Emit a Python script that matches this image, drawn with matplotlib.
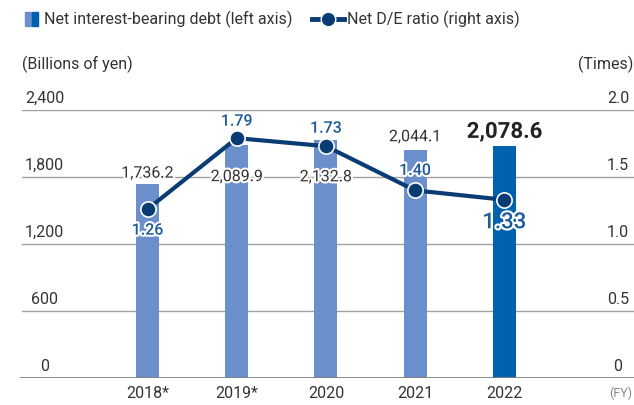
import matplotlib
matplotlib.use("Agg")
import matplotlib.pyplot as plt
import matplotlib.patheffects as pe
from matplotlib.patches import Rectangle
from matplotlib.lines import Line2D
import matplotlib.transforms as mtransforms

plt.rcParams['font.family'] = ['Roboto', 'DejaVu Sans']

# data
years = ["2018*", "2019*", "2020", "2021", "2022"]
debt = [1736.2, 2089.9, 2132.8, 2044.1, 2078.6]
de_ratio = [1.26, 1.79, 1.73, 1.40, 1.33]
left_ticks = [0, 600, 1200, 1800, 2400]
left_tick_labels = ["0", "600", "1,200", "1,800", "2,400"]
right_ticks = [0, 0.5, 1.0, 1.5, 2.0]
right_tick_labels = ["0", "0.5", "1.0", "1.5", "2.0"]

# label offsets in pixels (from bar top / marker)
debt_offsets = [11, -32, -37, 13, 14]
ratio_offsets = [-21, 17, 18, 20, -23]

light_blue = "#6b8fcb"
dark_blue = "#0061ae"
navy = "#0a3c74"
ratio_txt = "#1d5a98"
txt = "#333333"
grid_col = "#a0a0a0"
fs = 11.5

W, H = 634, 405
fig = plt.figure(figsize=(W / 100, H / 100), dpi=100)
ax = fig.add_axes([20 / W, 27 / H, 614 / W, 268 / H])
ax2 = ax.twinx()

x = list(range(len(years)))
colors = [light_blue] * (len(years) - 1) + [dark_blue]

# gridlines
for t in left_ticks[1:]:
    ax.axhline(t, xmin=0.004, color=grid_col, lw=1.0, zorder=0)
ax.axhline(0, color="#808080", lw=2.0, zorder=3)

ax.bar(x, debt, width=0.258, color=colors, zorder=2)
ax.set_xlim(-1.43, 5.454)
ax.set_ylim(0, 2400)
ax2.set_ylim(0, 2.0)

for a in (ax, ax2):
    a.set_xticks([])
    a.set_yticks([])
    for s in a.spines.values():
        s.set_visible(False)

# put line axes above bars
ax2.set_zorder(ax.get_zorder() + 1)
ax.patch.set_visible(False)
ax2.patch.set_visible(False)

ax2.plot(x, de_ratio, color=navy, lw=3, zorder=4,
         marker="o", markersize=11, markerfacecolor=navy,
         markeredgecolor="white", markeredgewidth=1.2)

stroke = [pe.withStroke(linewidth=3, foreground="white")]

# bar value labels
for i, v in enumerate(debt):
    last = i == len(debt) - 1
    ax2.annotate(f"{v:,.1f}", xy=(i, v / 1200), xytext=(0, debt_offsets[i]),
                 textcoords="offset pixels", ha="center", va="center",
                 fontsize=16 if last else fs,
                 fontweight="bold" if last else "normal",
                 color="#222222" if last else txt, path_effects=stroke, zorder=5)

# ratio labels
for i, v in enumerate(de_ratio):
    last = i == len(de_ratio) - 1
    ax2.annotate(f"{v:.2f}", xy=(i, v), xytext=(0, ratio_offsets[i]),
                 textcoords="offset pixels", ha="center", va="center",
                 fontsize=16 if last else fs, fontweight="medium",
                 color=ratio_txt, path_effects=stroke, zorder=6)

# y tick labels drawn on top of gridlines
tr_left = mtransforms.blended_transform_factory(ax.transAxes, ax.transData)
for t, lab in zip(left_ticks, left_tick_labels):
    ax.annotate(lab, xy=(0.04, t), xycoords=tr_left, xytext=(0, 4),
                textcoords="offset pixels", ha="center", va="bottom",
                fontsize=fs, color=txt)
tr_right = mtransforms.blended_transform_factory(ax2.transAxes, ax2.transData)
for t, lab in zip(right_ticks, right_tick_labels):
    ax2.annotate(lab, xy=(0.974, t), xycoords=tr_right, xytext=(0, 4),
                 textcoords="offset pixels", ha="center", va="bottom",
                 fontsize=fs, color=txt)

# x labels
for i, lab in enumerate(years):
    ax.annotate(lab, xy=(i, 0), xytext=(0, -15), textcoords="offset pixels",
                ha="center", va="center", fontsize=fs, color=txt,
                annotation_clip=False)
fig.text(632 / W, 1 - 393 / H, "(FY)", ha="right", va="center", fontsize=9, color="#888888")

# unit labels
fig.text(22 / W, 1 - 64 / H, "(Billions of yen)", ha="left", va="center", fontsize=fs, color=txt)
fig.text(633 / W, 1 - 64 / H, "(Times)", ha="right", va="center", fontsize=fs, color=txt)

# legend (manual)
fig.patches.append(Rectangle((25 / W, 1 - 26 / H), 6 / W, 14 / H, color=light_blue,
                             transform=fig.transFigure, figure=fig))
fig.patches.append(Rectangle((32 / W, 1 - 26 / H), 6 / W, 14 / H, color=dark_blue,
                             transform=fig.transFigure, figure=fig))
fig.text(44 / W, 1 - 19 / H, "Net interest-bearing debt (left axis)", ha="left", va="center",
         fontsize=fs, color=txt)
ly = 1 - 19 / H
fig.lines.append(Line2D([312 / W, 320 / W], [ly, ly], color=navy, lw=3.5,
                        transform=fig.transFigure, figure=fig))
fig.lines.append(Line2D([336 / W, 344 / W], [ly, ly], color=navy, lw=3.5,
                        transform=fig.transFigure, figure=fig))
fig.lines.append(Line2D([328 / W], [ly], color=navy, marker="o", markersize=10.5,
                        markeredgecolor="white", markeredgewidth=1.0,
                        transform=fig.transFigure, figure=fig))
fig.text(347 / W, ly, "Net D/E ratio (right axis)", ha="left", va="center",
         fontsize=fs, color=txt)

fig.savefig("out.png", dpi=100)
